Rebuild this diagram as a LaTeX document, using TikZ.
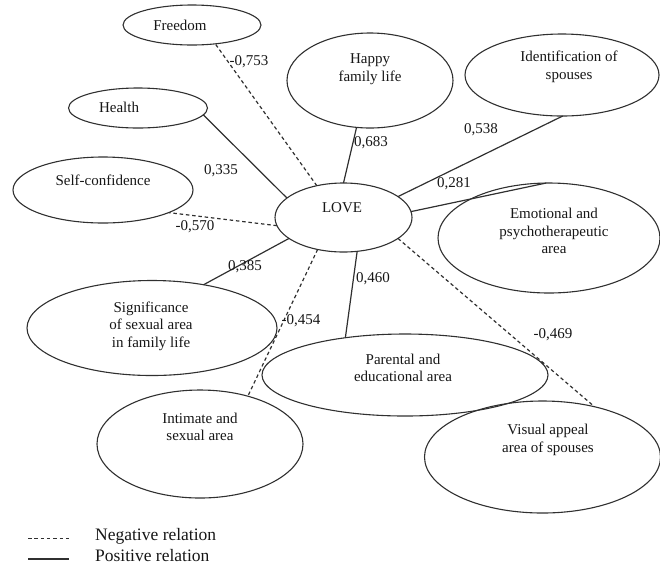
\documentclass[tikz,border=0pt]{standalone}
\usepackage{fontspec}
\setmainfont{Liberation Serif}
\usetikzlibrary{shapes.geometric}
\definecolor{ink}{HTML}{161616}
\definecolor{edge}{HTML}{303030}
\tikzset{
  oval/.style={ellipse, draw=edge, line width=1.1pt, inner sep=0pt, outer sep=0pt},
  txt/.style={font=\fontsize{15}{17.5}\selectfont, text=ink, align=center, inner sep=0pt},
  num/.style={font=\fontsize{15}{17.5}\selectfont, text=ink, inner sep=0pt},
  posline/.style={draw=edge, line width=1.2pt},
  negline/.style={draw=edge, line width=1.2pt, dash pattern=on 3.5pt off 2.8pt},
  leg/.style={font=\fontsize{17.5}{20}\selectfont, text=ink, anchor=west, inner sep=0pt}
}
\begin{document}
\begin{tikzpicture}[x=1pt,y=-1pt]
\useasboundingbox (0,0) rectangle (660,566);
% ellipses
\node[oval, minimum width=137pt, minimum height=69pt] (love) at (343.5,217.5) {};
\node[oval, minimum width=138pt, minimum height=40pt] (free) at (192,25) {};
\node[oval, minimum width=139pt, minimum height=40pt] (health) at (138,108) {};
\node[oval, minimum width=180pt, minimum height=66pt] (self) at (103,190) {};
\node[oval, minimum width=166pt, minimum height=95pt] (happy) at (370,80.5) {};
\node[oval, minimum width=194pt, minimum height=82pt] (ident) at (562,75) {};
\node[oval, minimum width=222pt, minimum height=110pt] (emo) at (549,238) {};
\node[oval, minimum width=250pt, minimum height=95pt] (sig) at (152,328) {};
\node[oval, minimum width=206pt, minimum height=108pt] (intim) at (200,444) {};
\node[oval, minimum width=286pt, minimum height=82pt] (par) at (405,375) {};
\node[oval, minimum width=236pt, minimum height=112pt] (vis) at (542.5,457) {};
% texts
\node[txt] (loveT) at (342,208) {LOVE};
\node[txt] (freeT) at (180,25) {Freedom};
\node[txt] (healthT) at (119,107) {Health};
\node[txt] (selfT) at (103,180) {Self-confidence};
\node[txt] (happyT) at (370,69) {Happy\\family life};
\node[txt] (identT) at (569,67) {Identification of\\spouses};
\node[txt] (emoT) at (554,231) {Emotional and\\psychotherapeutic\\area};
\node[txt] (sigT) at (151,326) {Significance\\of sexual area\\in family life};
\node[txt] (intimT) at (200,427) {Intimate and\\sexual area};
\node[txt] (parT) at (403,368) {Parental and\\educational area};
\node[txt] (visT) at (548,440) {Visual appeal\\area of spouses};
% connectors
\draw[negline] (love.130) -- (free.321);
\draw[posline] (love.161) -- (health.354);
\draw[negline] (love.187) -- (self.341);
\draw[posline] (love.201) -- (sig.40);
\draw[negline] (love.231) -- (intim.45);
\draw[posline] (love.292) -- (par.148);
\draw[negline] (love.339) -- (vis.44);
\draw[posline] (love.5) -- (emo.93);
\draw[posline] (love.21) -- (ident.271);
\draw[posline] (love.90) -- (happy.254);
% labels
\node[num] (l1) at (249,62) {-0,753};
\node[num] (l2) at (221,171) {0,335};
\node[num] (l3) at (195,227) {-0,570};
\node[num] (l4) at (245,267) {0,385};
\node[num] (l5) at (301,321) {-0,454};
\node[num] (l6) at (371,143) {0,683};
\node[num] (l7) at (481,130) {0,538};
\node[num] (l8) at (454,184) {0,281};
\node[num] (l9) at (373,279) {0,460};
\node[num] (l10) at (553,335) {-0,469};
% legend
\coordinate (n1) at (28,538);
\coordinate (n2) at (69,538);
\coordinate (p1) at (28,559);
\coordinate (p2) at (69,559);
\draw[negline, line width=1pt] (n1) -- (n2);
\draw[posline, line width=1.1pt] (p1) -- (p2);
\node[leg] (negT) at (95,536) {Negative relation};
\node[leg] (posT) at (95,555) {Positive relation};
\end{tikzpicture}
\end{document}
